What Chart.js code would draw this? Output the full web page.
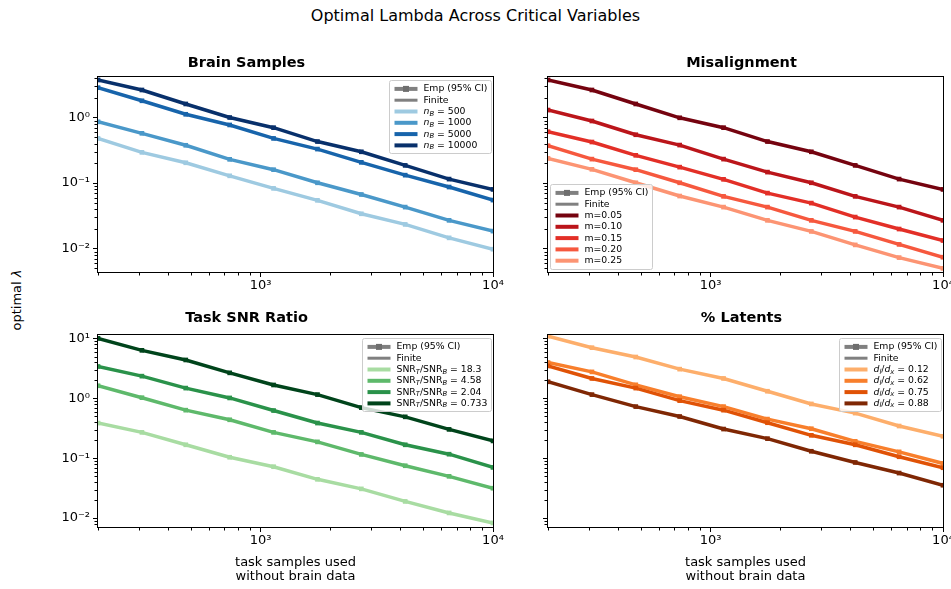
<!DOCTYPE html>
<html>
<head>
<meta charset="utf-8">
<script src="https://cdn.jsdelivr.net/npm/chart.js@4.4.0/dist/chart.umd.min.js"></script>
<style>
  body { margin: 0; background: #fff; font-family: 'DejaVu Sans', sans-serif; }
  #fig { position: relative; width: 951px; height: 589px; overflow: hidden; background: #fff; }
  .suptitle { position: absolute; top: 6px; left: 0; width: 951px; text-align: center; font-size: 16px; line-height: 19px; color: #000; }
  .ylab { position: absolute; left: 16px; top: 300px; transform: translate(-50%, -50%) rotate(-90deg); font-size: 13px; white-space: nowrap; color: #000; }
  canvas { position: absolute; }
</style>
</head>
<body>
<div id="fig">
  <div class="suptitle">Optimal Lambda Across Critical Variables</div>
  <div class="ylab">optimal <i>λ</i></div>
  <canvas id="p0" width="591" height="260" style="left:0;top:40px"></canvas>
  <canvas id="p1" width="411" height="260" style="left:540px;top:40px"></canvas>
  <canvas id="p2" width="591" height="289" style="left:0;top:300px"></canvas>
  <canvas id="p3" width="411" height="289" style="left:540px;top:300px"></canvas>
</div>
<script>
// task samples used without brain data (x positions of the points)
const taskSamples = [200, 309, 477, 737, 1138, 1758, 2714, 4192, 6474, 10000];

// Brain Samples
const brainLabels = ['*n*_{*B*} = 500', '*n*_{*B*} = 1000', '*n*_{*B*} = 5000', '*n*_{*B*} = 10000'];
const brainColors = ['#9ecae1', '#4a98c9', '#1764ab', '#08306b'];
const nb500 = [0.48, 0.294, 0.204, 0.129, 0.083, 0.0545, 0.034, 0.0234, 0.0146, 0.0098];
const nb1000 = [0.86, 0.574, 0.377, 0.23, 0.160, 0.101, 0.067, 0.043, 0.027, 0.0185];
const nb5000 = [2.85, 1.80, 1.12, 0.77, 0.48, 0.33, 0.207, 0.132, 0.087, 0.055];
const nb10000 = [3.74, 2.63, 1.61, 1.0, 0.70, 0.43, 0.30, 0.186, 0.115, 0.080];

// Misalignment
const misLabels = ['m=0.05', 'm=0.10', 'm=0.15', 'm=0.20', 'm=0.25'];
const misColors = ['#75030f', '#bb151a', '#e32f27', '#f6583e', '#fc9473'];
const mis005 = [3.74, 2.63, 1.61, 0.99, 0.70, 0.43, 0.30, 0.186, 0.115, 0.080];
const mis010 = [1.30, 0.885, 0.546, 0.38, 0.232, 0.147, 0.101, 0.0627, 0.043, 0.027];
const mis015 = [0.607, 0.423, 0.265, 0.175, 0.114, 0.0703, 0.0495, 0.0303, 0.0199, 0.0133];
const mis020 = [0.371, 0.232, 0.16, 0.101, 0.0627, 0.043, 0.027, 0.0183, 0.0116, 0.0074];
const mis025 = [0.238, 0.162, 0.101, 0.0634, 0.043, 0.027, 0.0183, 0.0114, 0.0073, 0.005];

// Task SNR Ratio
const snrLabels = ['SNR_{*T*}/SNR_{*B*} = 18.3', 'SNR_{*T*}/SNR_{*B*} = 4.58', 'SNR_{*T*}/SNR_{*B*} = 2.04', 'SNR_{*T*}/SNR_{*B*} = 0.733'];
const snrColors = ['#a8dca2', '#5eb96b', '#2a924a', '#00441b'];
const snr183 = [0.388, 0.271, 0.168, 0.104, 0.0723, 0.0445, 0.0308, 0.019, 0.0122, 0.0083];
const snr458 = [1.63, 1.03, 0.637, 0.44, 0.271, 0.188, 0.116, 0.075, 0.0499, 0.0316];
const snr204 = [3.42, 2.36, 1.49, 1.02, 0.628, 0.388, 0.271, 0.168, 0.117, 0.0703];
const snr0733 = [10.1, 6.37, 4.40, 2.68, 1.68, 1.16, 0.703, 0.493, 0.304, 0.195];

// % Latents
const latLabels = ['*d*_{*l*}/*d*_{*x*} = 0.12', '*d*_{*l*}/*d*_{*x*} = 0.62', '*d*_{*l*}/*d*_{*x*} = 0.75', '*d*_{*l*}/*d*_{*x*} = 0.88'];
const latColors = ['#fdae6b', '#f87f2c', '#e05206', '#7f2704'];
const lat012 = [11.0, 7.06, 4.93, 3.09, 2.16, 1.32, 0.81, 0.569, 0.346, 0.233];
const lat062 = [3.98, 2.78, 1.69, 1.07, 0.731, 0.452, 0.312, 0.192, 0.128, 0.082];
const lat075 = [3.50, 2.16, 1.49, 0.92, 0.637, 0.393, 0.242, 0.168, 0.106, 0.0695];
const lat088 = [1.90, 1.16, 0.731, 0.499, 0.308, 0.213, 0.131, 0.0851, 0.0566, 0.0354];

const xTickLabels = {3: '10³', 4: '10⁴'};
const yTickLabels = {'-2': '10⁻²', '-1': '10⁻¹', 0: '10⁰', 1: '10¹'};

const FONT = 'DejaVu Sans';
const GRAY = '#808080';

function isPow10(v) {
  const l = Math.log10(v);
  return Math.abs(l - Math.round(l)) < 1e-9;
}

// 1..9 x 10^n ticks inside the axis range
function logTicks(scale) {
  const out = [];
  const e0 = Math.floor(Math.log10(scale.min)), e1 = Math.ceil(Math.log10(scale.max));
  for (let e = e0; e <= e1; e++) {
    for (let m = 1; m <= 9; m++) {
      const v = m * Math.pow(10, e);
      if (v >= scale.min * 0.9999 && v <= scale.max * 1.0001) out.push({value: v});
    }
  }
  scale.ticks = out;
}

// label like '*n*_{*B*} = 500' -> pieces (italic / subscript)
function parseRich(s) {
  const segs = [];
  let it = false, sub = false;
  for (let i = 0; i < s.length; i++) {
    const c = s[i];
    if (c === '*') { it = !it; continue; }
    if (c === '_' && s[i + 1] === '{') { sub = true; i++; continue; }
    if (c === '}' && sub) { sub = false; continue; }
    const last = segs[segs.length - 1];
    if (last && last.it === it && last.sub === sub) last.t += c;
    else segs.push({t: c, it, sub});
  }
  return segs;
}

function richFont(seg) {
  return (seg.it ? 'italic ' : '') + (seg.sub ? 6.8 : 9.3) + 'px "' + FONT + '"';
}

function richWidth(ctx, s) {
  let w = 0;
  parseRich(s).forEach(seg => { ctx.font = richFont(seg); w += ctx.measureText(seg.t).width; });
  return w;
}

function drawRich(ctx, s, x, y) {
  parseRich(s).forEach(seg => {
    ctx.font = richFont(seg);
    ctx.fillText(seg.t, x, y + (seg.sub ? 2.3 : 0));
    x += ctx.measureText(seg.t).width;
  });
}

// spines, short minor ticks
const framePlugin = {
  id: 'frame',
  afterDraw(chart) {
    const {ctx, chartArea: a} = chart;
    ctx.save();
    ctx.strokeStyle = '#000';
    ctx.lineWidth = 1;
    const l = Math.round(a.left) - 0.5, t = Math.round(a.top) - 0.5;
    const r = Math.round(a.right) + 0.5, b = Math.round(a.bottom) + 0.5;
    ctx.strokeRect(l, t, r - l, b - t);
    ctx.beginPath();
    chart.scales.x.ticks.forEach(tk => {
      if (isPow10(tk.value)) return;
      const px = Math.round(chart.scales.x.getPixelForValue(tk.value)) + 0.5;
      ctx.moveTo(px, b); ctx.lineTo(px, b + 3);
    });
    chart.scales.y.ticks.forEach(tk => {
      if (isPow10(tk.value)) return;
      const py = Math.round(chart.scales.y.getPixelForValue(tk.value)) + 0.5;
      ctx.moveTo(l, py); ctx.lineTo(l - 3, py);
    });
    ctx.stroke();
    ctx.restore();
  }
};

// matplotlib-like legend inside the axes
const boxLegend = {
  id: 'boxLegend',
  afterDraw(chart, args, opts) {
    const {ctx, chartArea: a} = chart;
    const rows = [{label: 'Emp (95% CI)', color: GRAY, w: 4, marker: true},
                  {label: 'Finite', color: GRAY, w: 3}];
    opts.labels.forEach((lb, i) => rows.push({label: lb, color: opts.colors[i], w: 4}));
    const pitch = 11.3, padY = 8.4, padL = 5, handle = 23, gap = 6, padR = 4;
    ctx.save();
    let tw = 0;
    rows.forEach(r => { tw = Math.max(tw, richWidth(ctx, r.label)); });
    const bw = padL + handle + gap + tw + padR;
    const bh = padY * 2 + pitch * (rows.length - 1);
    let bx, by;
    if (opts.corner === 'll') { bx = a.left + 2; by = a.bottom - 3 - bh; }
    else { bx = a.right - 2 - bw; by = a.top + 3; }
    bx = Math.round(bx) + 0.5; by = Math.round(by) + 0.5;
    ctx.fillStyle = 'rgba(255,255,255,0.8)';
    ctx.strokeStyle = '#cccccc';
    ctx.lineWidth = 1;
    ctx.beginPath();
    ctx.roundRect(bx, by, Math.round(bw), Math.round(bh), 2);
    ctx.fill(); ctx.stroke();
    rows.forEach((r, i) => {
      const cy = by + padY + i * pitch;
      const hx = bx + padL;
      ctx.strokeStyle = r.color;
      ctx.lineWidth = r.w;
      ctx.beginPath(); ctx.moveTo(hx, cy); ctx.lineTo(hx + handle, cy); ctx.stroke();
      if (r.marker) {
        ctx.fillStyle = '#6e6e6e';
        ctx.fillRect(hx + handle / 2 - 3, cy - 3, 6, 6);
      }
      ctx.fillStyle = '#000';
      ctx.textBaseline = 'middle';
      ctx.textAlign = 'left';
      drawRich(ctx, r.label, hx + handle + gap, cy);
    });
    ctx.restore();
  }
};

function makePanel(id, cfg) {
  const n = cfg.series.length;
  const datasets = cfg.series.map((vals, i) => ({
    label: cfg.labels[i],
    data: taskSamples.map((x, j) => ({x: x, y: vals[j]})),
    borderColor: cfg.colors[i],
    backgroundColor: cfg.colors[i],
    borderWidth: 3.5,
    pointStyle: 'rect',
    pointRadius: 3.3,
    pointBorderWidth: 0,
    pointHoverRadius: 3.3,
    tension: 0,
    order: n - i
  }));
  new Chart(document.getElementById(id), {
    type: 'line',
    data: {datasets},
    plugins: [framePlugin, boxLegend],
    options: {
      responsive: false,
      animation: false,
      events: [],
      layout: {padding: {left: 0, right: cfg.padRight, top: 0, bottom: 0}},
      plugins: {
        legend: {display: false},
        tooltip: {enabled: false},
        title: {
          display: true,
          text: cfg.title,
          color: '#000',
          font: {family: FONT, size: 14.5, weight: 'bold', lineHeight: 1.2},
          padding: cfg.titlePad
        },
        boxLegend: {labels: cfg.labels, colors: cfg.colors, corner: cfg.corner}
      },
      scales: {
        x: {
          type: 'logarithmic',
          min: 200,
          max: 10000,
          border: {display: false},
          grid: {
            drawOnChartArea: false,
            tickLength: 5,
            tickColor: c => (c.tick && isPow10(c.tick.value)) ? '#000' : 'rgba(0,0,0,0)'
          },
          afterBuildTicks: logTicks,
          ticks: {
            autoSkip: false,
            maxRotation: 0,
            padding: 1,
            color: '#000',
            font: {family: FONT, size: 13},
            callback: v => isPow10(v) ? (xTickLabels[Math.round(Math.log10(v))] || '') : ''
          },
          title: {
            display: !!cfg.xTitle,
            text: cfg.xTitle || '',
            color: '#000',
            font: {family: FONT, size: 13, lineHeight: 1.08},
            padding: {top: 0, bottom: 5}
          },
          afterFit: s => { s.height = cfg.xAxisH; s.paddingLeft = 0; s.paddingRight = 0; }
        },
        y: {
          type: 'logarithmic',
          min: cfg.yMin,
          max: cfg.yMax,
          border: {display: false},
          grid: {
            drawOnChartArea: false,
            tickLength: 5,
            tickColor: c => (c.tick && isPow10(c.tick.value)) ? '#000' : 'rgba(0,0,0,0)'
          },
          afterBuildTicks: logTicks,
          ticks: {
            autoSkip: false,
            padding: 3,
            color: '#000',
            font: {family: FONT, size: 13},
            callback: v => (cfg.yLabels && isPow10(v)) ? (yTickLabels[Math.round(Math.log10(v))] || '') : ''
          },
          afterFit: s => { s.width = cfg.yAxisW; s.paddingTop = 0; s.paddingBottom = 0; }
        }
      }
    }
  });
}

const xTitle = ['task samples used', 'without brain data'];

makePanel('p0', {
  title: 'Brain Samples', labels: brainLabels, colors: brainColors,
  series: [nb500, nb1000, nb5000, nb10000], corner: 'ur',
  yMin: 0.0044, yMax: 4.15, yLabels: true, yAxisW: 98, padRight: 98,
  titlePad: {top: 15, bottom: 4.6}, xAxisH: 28
});
makePanel('p1', {
  title: 'Misalignment', labels: misLabels, colors: misColors,
  series: [mis005, mis010, mis015, mis020, mis025], corner: 'll',
  yMin: 0.0044, yMax: 4.15, yLabels: false, yAxisW: 8, padRight: 8,
  titlePad: {top: 15, bottom: 4.6}, xAxisH: 28
});
makePanel('p2', {
  title: 'Task SNR Ratio', labels: snrLabels, colors: snrColors,
  series: [snr183, snr458, snr204, snr0733], corner: 'ur',
  yMin: 0.0071, yMax: 11.5, yLabels: true, yAxisW: 98, padRight: 98,
  titlePad: {top: 10, bottom: 7.6}, xAxisH: 62, xTitle: xTitle
});
makePanel('p3', {
  title: '% Latents', labels: latLabels, colors: latColors,
  series: [lat012, lat062, lat075, lat088], corner: 'ur',
  yMin: 0.0071, yMax: 11.5, yLabels: false, yAxisW: 8, padRight: 8,
  titlePad: {top: 10, bottom: 7.6}, xAxisH: 62, xTitle: xTitle
});
</script>
</body>
</html>
